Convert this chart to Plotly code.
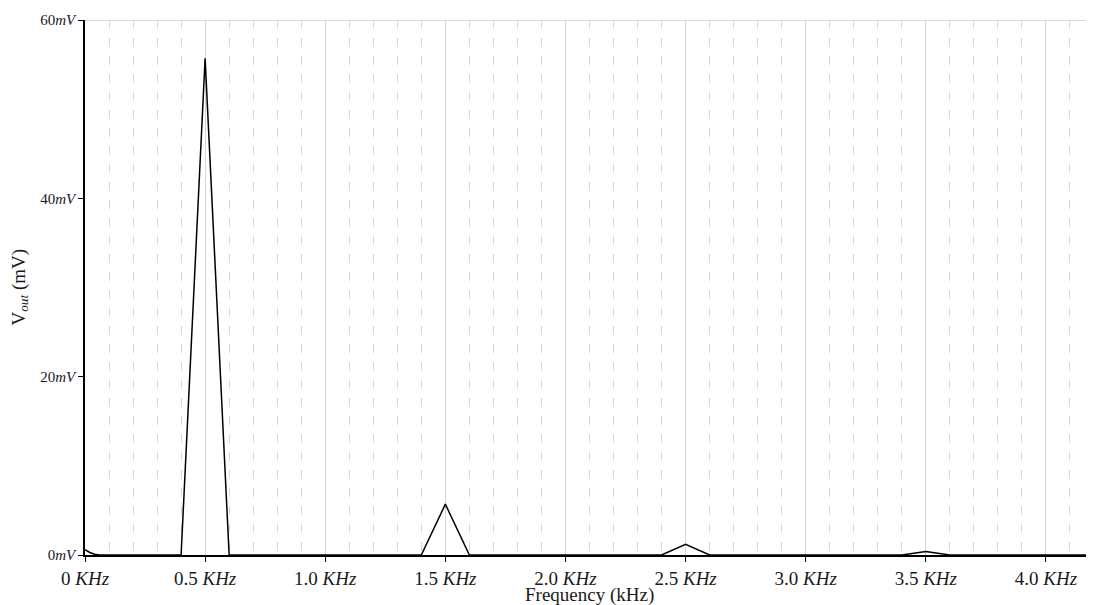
import plotly.graph_objects as go

# Data
freq_khz = [0.0, 0.02, 0.04, 0.06, 0.1, 0.2, 0.3, 0.4, 0.5, 0.6, 0.7, 0.8, 0.9, 1.0,
            1.1, 1.2, 1.3, 1.4, 1.5, 1.6, 1.7, 1.8, 1.9, 2.0, 2.1, 2.2, 2.3, 2.4,
            2.5, 2.6, 2.7, 2.8, 2.9, 3.0, 3.1, 3.2, 3.3, 3.4, 3.5, 3.6, 3.7, 3.8,
            3.9, 4.0, 4.1, 4.2]
vout_mv = [0.6, 0.28, 0.08, 0.0, 0.0, 0.0, 0.0, 0.0, 55.7, 0.0, 0.0, 0.0, 0.0, 0.0,
           0.0, 0.0, 0.0, 0.0, 5.7, 0.0, 0.0, 0.0, 0.0, 0.0, 0.0, 0.0, 0.0, 0.0,
           1.2, 0.0, 0.0, 0.0, 0.0, 0.0, 0.0, 0.0, 0.0, 0.0, 0.38, 0.0, 0.0, 0.0,
           0.0, 0.0, 0.0, 0.0]

x_tick_vals = [0, 0.5, 1.0, 1.5, 2.0, 2.5, 3.0, 3.5, 4.0]
x_tick_text = ["0 <i>KHz</i>", "0.5 <i>KHz</i>", "1.0 <i>KHz</i>", "1.5 <i>KHz</i>",
               "2.0 <i>KHz</i>", "2.5 <i>KHz</i>", "3.0 <i>KHz</i>", "3.5 <i>KHz</i>",
               "4.0 <i>KHz</i>"]
y_tick_vals = [0, 20, 40, 60]
y_tick_text = ["0<i>mV</i>", "20<i>mV</i>", "40<i>mV</i>", "60<i>mV</i>"]

FONT = "Liberation Serif, Times New Roman, serif"

fig = go.Figure()
fig.add_trace(go.Scatter(x=freq_khz, y=vout_mv, mode="lines",
                         line=dict(color="black", width=1.5), showlegend=False))

# page body has an 8px margin, so the figure is sized/offset to compensate
fig.update_layout(
    width=1086, height=597,
    margin=dict(l=77, r=0, t=12, b=50),
    paper_bgcolor="white", plot_bgcolor="white",
    font=dict(family=FONT, color="#1a1a1a"),
    xaxis=dict(
        range=[0, 4.2], tickvals=x_tick_vals, ticktext=x_tick_text,
        tickfont=dict(size=19, family=FONT, color="#1a1a1a"),
        showline=True, linecolor="black", linewidth=1.5,
        ticks="outside", ticklen=5, tickcolor="black",
        showgrid=True, gridcolor="#d4d4d4", gridwidth=1,
        minor=dict(dtick=0.1, tick0=0, showgrid=True, gridcolor="#d8d8d8",
                   griddash="dash", gridwidth=1, ticks=""),
        zeroline=False, automargin=False,
    ),
    yaxis=dict(
        range=[0, 60], tickvals=y_tick_vals, ticktext=y_tick_text,
        tickfont=dict(size=15, family=FONT, color="#1a1a1a"),
        showline=True, linecolor="black", linewidth=1.5,
        ticks="outside", ticklen=5, tickcolor="black",
        showgrid=False, zeroline=False, automargin=False,
    ),
    shapes=[dict(type="line", xref="paper", yref="y", x0=0, x1=1, y0=60, y1=60,
                 line=dict(color="#d0d0d0", width=1.5))],
    annotations=[
        dict(text="Frequency (kHz)", xref="paper", yref="paper", x=0.5, y=-0.075,
             xanchor="center", yanchor="middle", showarrow=False,
             font=dict(size=19, family=FONT, color="#1a1a1a")),
        dict(text="V<sub><i>out</i></sub> (mV)", xref="paper", yref="paper", x=-0.0654, y=0.5,
             xanchor="center", yanchor="middle", textangle=-90, showarrow=False,
             font=dict(size=19, family=FONT, color="#1a1a1a")),
    ],
)

fig.write_html("out.html")
